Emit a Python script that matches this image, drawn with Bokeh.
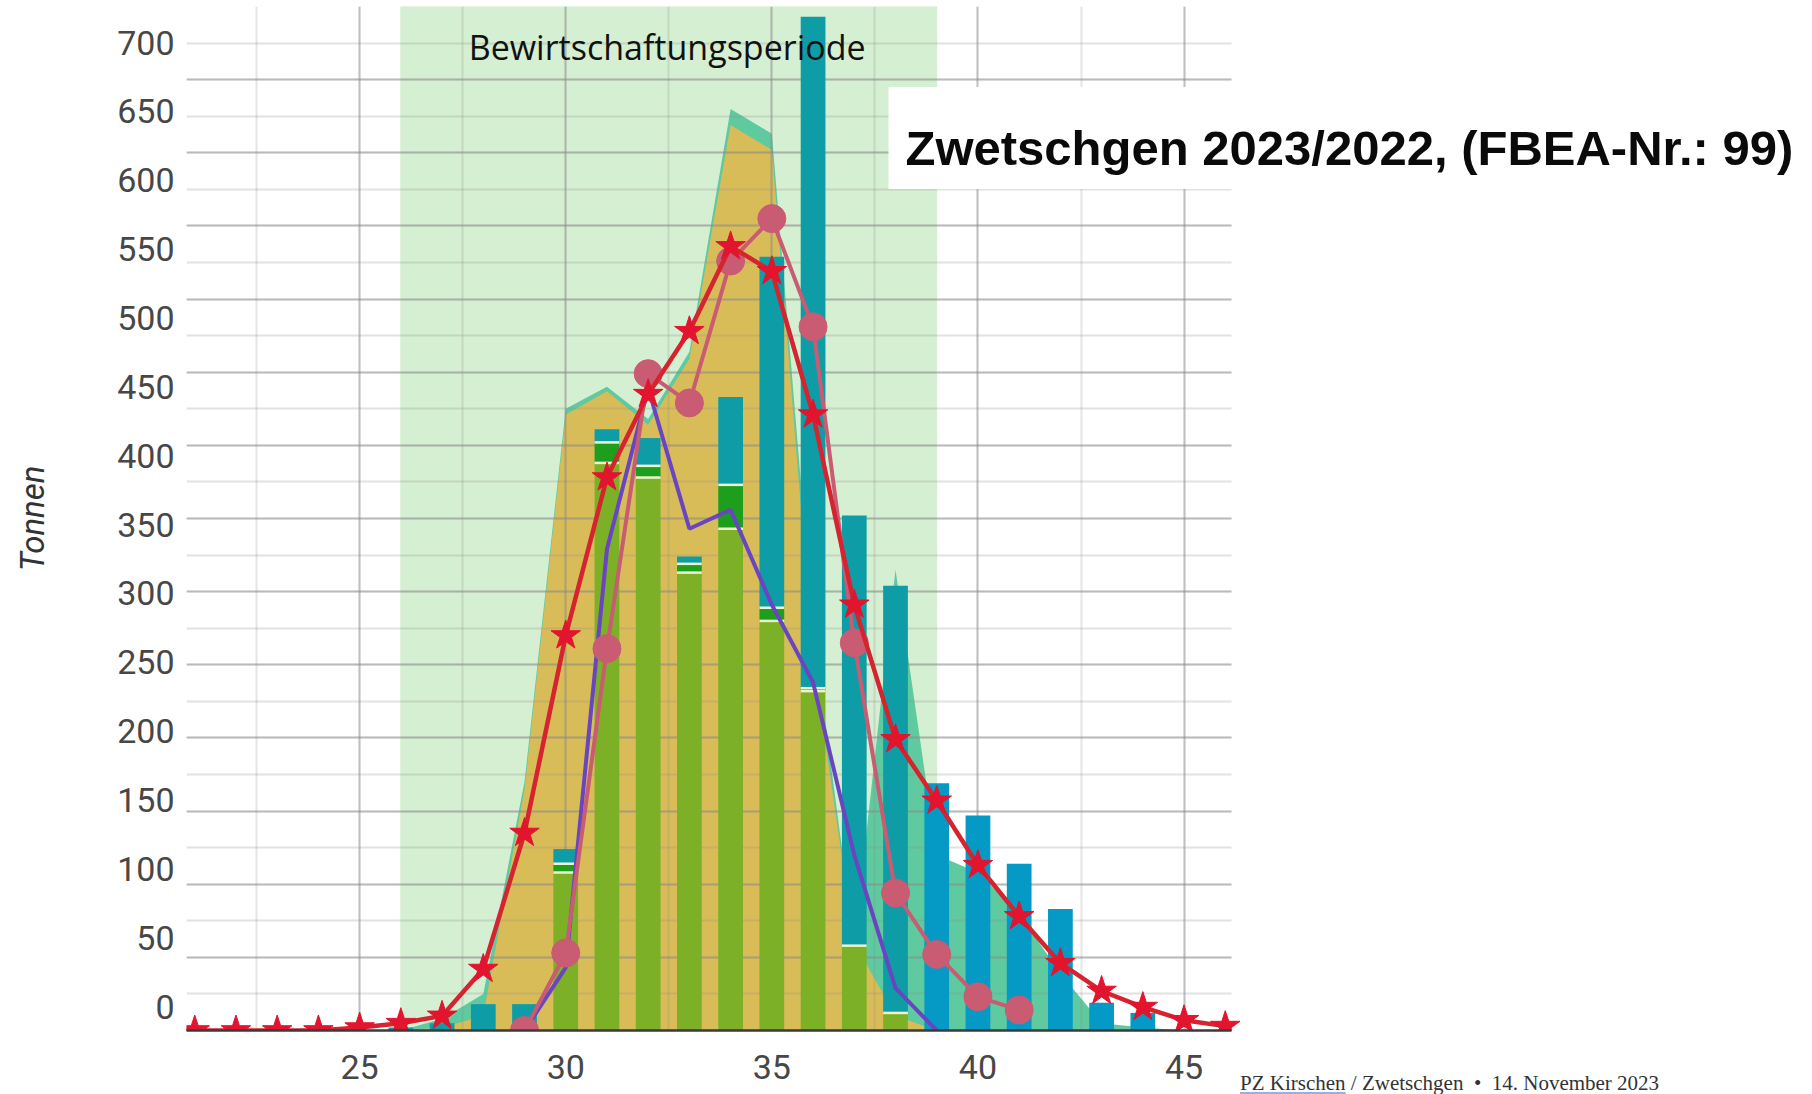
from bokeh.plotting import figure
from bokeh.models import Range1d, LinearAxis, SingleIntervalTicker, Grid, Label, Div
from bokeh.layouts import column
from bokeh.embed import file_html
from bokeh.resources import INLINE

# ---------------- data ----------------
band_start = 26
band_end = 39
band_label = "Bewirtschaftungsperiode"
title_text = "Zwetschgen 2023/2022, (FBEA-Nr.: 99)"
footer_source = "PZ Kirschen"
footer_rest = " / Zwetschgen \u00a0\u2022\u00a0 14. November 2023"
y_title = "Tonnen"

area_weeks = list(range(26, 46))
mint_area = [0, 8, 25, 170, 425, 440, 418, 464, 630, 613, 275, 60, 315, 120, 108, 80, 39, 5, 2, 0]
gold_weeks = list(range(26, 40))
gold_area = [0, 2, 10, 165, 421, 437, 414, 459, 619, 602, 255, 60, 10, 0]

bar_weeks = list(range(26, 45))
bar_light = [0, 0, 0, 0, 108, 388, 378, 313, 343, 280, 232, 58, 12, 0, 0, 0, 0, 0, 0]
bar_dark = [0, 0, 0, 0, 6, 14, 8, 6, 30, 9, 2, 0, 0, 0, 0, 0, 0, 0, 0]
bar_teal = [2, 5, 18, 18, 10, 9, 19, 5, 60, 240, 459, 294, 292, 0, 0, 0, 0, 0, 0]
bar_blue = [0, 0, 0, 0, 0, 0, 0, 0, 0, 0, 0, 0, 0, 169, 147, 114, 83, 19, 12]

star_weeks = list(range(20, 47))
star_vals = [0, 0, 0, 0, 0, 2, 5, 10, 42, 135, 270, 378, 435, 478, 536, 519, 421,
             291, 199, 157, 113, 78, 46, 27, 16, 7, 3]
pink_weeks = list(range(29, 42))
pink_vals = [0, 53, 261, 449, 429, 526, 555, 481, 265, 94, 52, 23, 14]
purple_weeks = list(range(29, 40))
purple_vals = [0, 43, 329, 439, 343, 356, 291, 238, 120, 29, 0]

# ---------------- figure ----------------
X0, XG = 20.8, 46.15          # visible chart extent in weeks
p = figure(width=1806, height=1092,
           x_range=Range1d(X0, 60.1), y_range=Range1d(0, 700),
           output_backend="svg", toolbar_location=None, y_axis_location=None,
           min_border_left=186, min_border_right=0, min_border_top=6, min_border_bottom=62)
p.outline_line_color = None
p.background_fill_color = "white"
for g in p.ygrid:
    g.visible = False

p.extra_y_ranges = {"lab": Range1d(-17.4, 726.2)}
yax = LinearAxis(y_range_name="lab", ticker=SingleIntervalTicker(interval=50))
yax.axis_label = y_title
yax.axis_label_text_font = "Roboto"
yax.axis_label_text_font_style = "italic"
yax.axis_label_text_font_size = "33px"
yax.axis_label_text_color = "#333333"
yax.axis_label_standoff = 62
yax.major_label_text_font = "Roboto"
yax.major_label_text_font_size = "34px"
yax.major_label_text_color = "#474747"
yax.major_label_standoff = 6
yax.axis_line_color = None
yax.major_tick_line_color = None
yax.minor_tick_line_color = None
p.add_layout(yax, "left")

xax = p.xaxis[0]
xax.ticker = SingleIntervalTicker(interval=5)
xax.bounds = (X0, XG)
xax.major_label_text_font = "Roboto"
xax.major_label_text_font_size = "34px"
xax.major_label_text_color = "#474747"
xax.major_label_standoff = 18
xax.axis_line_color = "#3a3a3a"
xax.axis_line_width = 2.5
xax.major_tick_line_color = None
xax.minor_tick_line_color = None

p.xgrid.ticker = SingleIntervalTicker(interval=5, num_minor_ticks=2)
p.xgrid.bounds = (X0, XG)
p.xgrid.grid_line_color = "#8a8a8a"
p.xgrid.grid_line_alpha = 0.4
p.xgrid.minor_grid_line_color = "#8a8a8a"
p.xgrid.minor_grid_line_alpha = 0.22
p.xgrid.grid_line_width = 2
p.xgrid.minor_grid_line_width = 2

grid_kw = dict(grid_line_color="#8a8a8a", grid_line_alpha=0.45, grid_line_width=2,
               minor_grid_line_color="#8a8a8a", minor_grid_line_alpha=0.25, minor_grid_line_width=2)
if "cross_bounds" in Grid.properties():
    ygrid = Grid(dimension=1, ticker=SingleIntervalTicker(interval=50, num_minor_ticks=2),
                 cross_bounds=(X0, XG), **grid_kw)
    p.add_layout(ygrid, "center")
else:
    gy = list(range(0, 701, 25))
    p.segment(x0=[X0] * len(gy), x1=[XG] * len(gy), y0=gy, y1=gy,
              line_color=["#8a8a8a"] * len(gy),
              line_alpha=[0.45 if v % 50 == 0 else 0.25 for v in gy],
              line_width=2, level="underlay")

# band
p.quad(left=[band_start], right=[band_end], bottom=[0], top=[700],
       color="#d5efd2", level="image")
# areas
p.varea(x=area_weeks, y1=[0] * len(area_weeks), y2=mint_area, color="#5fcaa0", level="image")
p.varea(x=gold_weeks, y1=[0] * len(gold_weeks), y2=gold_area, color="#d8bc58", level="image")

# stacked bars
W = 0.6
b1 = [a + b for a, b in zip(bar_light, bar_dark)]
b2 = [a + b for a, b in zip(b1, bar_teal)]
p.vbar(x=bar_weeks, width=W, bottom=0, top=bar_light, color="#7cb127", line_color=None)
p.vbar(x=bar_weeks, width=W, bottom=bar_light, top=b1, color="#1d9f1d", line_color=None)
p.vbar(x=bar_weeks, width=W, bottom=b1, top=b2, color="#0e9ca6", line_color=None)
p.vbar(x=bar_weeks, width=W, bottom=b2, top=[a + b for a, b in zip(b2, bar_blue)],
       color="#0599c6", line_color=None)
# separators between stack segments
sx, sy = [], []
for w, l, d, t in zip(bar_weeks, bar_light, bar_dark, bar_teal):
    if l > 0 and d + t > 0:
        sx.append(w); sy.append(l)
    if d > 0 and t > 0:
        sx.append(w); sy.append(l + d)
p.segment(x0=[x - W / 2 for x in sx], x1=[x + W / 2 for x in sx], y0=sy, y1=sy,
          line_color="#eef3cf", line_width=2.5)

# lines
p.line(purple_weeks, purple_vals, line_color="#6a45c2", line_width=4)
p.line(pink_weeks, pink_vals, line_color="#c85c72", line_width=4)
p.scatter(pink_weeks, pink_vals, marker="circle", size=28, fill_color="#c95b73", line_color="#c95b73")
p.line(star_weeks, star_vals, line_color="#d5232f", line_width=4.5)
p.scatter(star_weeks, star_vals, marker="star", size=31, fill_color="#e2142e", line_color="#e2142e")

# texts
p.add_layout(Label(x=(band_start + band_end) / 2 - 0.04, y=672, text=band_label,
                   text_font="Open Sans", text_font_size="34px", text_color="#111111",
                   text_align="center", text_baseline="middle"))
# padding order: (left, right, top, bottom)
p.add_layout(Label(x=37.83, y=610.1, text=title_text,
                   text_font="Liberation Sans", text_font_style="bold", text_font_size="49px",
                   text_color="#0a0a0a", text_align="left", text_baseline="middle",
                   background_fill_color="white", padding=(17, 12, 34, 14)))

footer = Div(
    text=('<span style="text-decoration: underline; text-decoration-color: #8fb3e6;">'
          + footer_source + '</span>' + footer_rest),
    width=520, height=22, margin=(-20, 0, -22, 1240),
    styles={"font-family": "Liberation Serif", "font-size": "21px", "color": "#333333",
            "line-height": "22px", "white-space": "nowrap"})

page = column(p, footer)
open("out.html", "w").write(file_html(page, INLINE))
